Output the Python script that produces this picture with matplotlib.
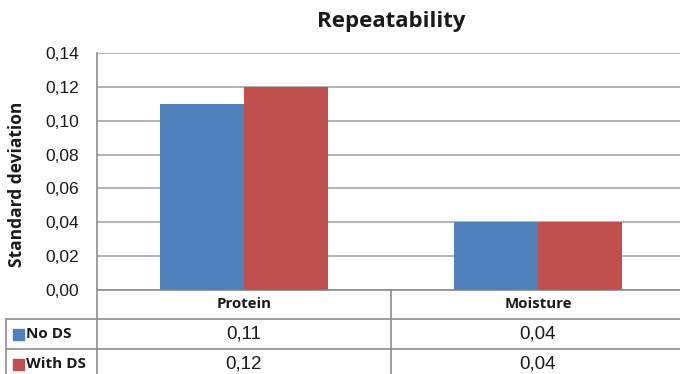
import numpy as np
import matplotlib
matplotlib.use("Agg")
import matplotlib.pyplot as plt
from matplotlib.lines import Line2D
from matplotlib.patches import Rectangle
from matplotlib.transforms import blended_transform_factory
from matplotlib.ticker import FuncFormatter

# data
categories = ["Protein", "Moisture"]
series_names = ["No DS", "With DS"]
no_ds = [0.11, 0.04]
with_ds = [0.12, 0.04]
yticks = [0.00, 0.02, 0.04, 0.06, 0.08, 0.10, 0.12, 0.14]

colors = ["#4F81BD", "#C0504D"]
grid_col = "#A6A6A6"
line_col = "#8C8C8C"
text_col = "#1A1A1A"

W, H = 680, 374


def fx(px):
    return px / W


def fy(py):
    return 1 - py / H


fig = plt.figure(figsize=(6.8, 3.74), dpi=100)
fig.patch.set_facecolor("white")

# plot area (right edge runs a bit past the image like the original)
ax = fig.add_axes([fx(97), fy(290), fx(685) - fx(97), fy(53) - fy(290)])
x = np.arange(len(categories))
bw = 0.286
ax.bar(x - bw / 2, no_ds, width=bw, color=colors[0], zorder=3)
ax.bar(x + bw / 2, with_ds, width=bw, color=colors[1], zorder=3)

ax.set_xlim(-0.5, len(categories) - 0.5)
ax.set_ylim(0, 0.14)
ax.set_yticks(yticks)
ax.yaxis.set_major_formatter(FuncFormatter(lambda v, p: f"{v:.2f}".replace(".", ",")))
ax.set_xticks([])
ax.tick_params(axis="y", length=0, pad=13, labelsize=12.5, labelcolor=text_col)
for lab in ax.get_yticklabels():
    lab.set_family("Liberation Sans")
ax.grid(axis="y", color=grid_col, linewidth=1.2, zorder=0)
for s in ["top", "right"]:
    ax.spines[s].set_visible(False)
ax.spines["left"].set_color(line_col)
ax.spines["bottom"].set_color(line_col)
ax.spines["left"].set_linewidth(1.2)
ax.spines["bottom"].set_linewidth(1.2)

# axis title and chart title
fig.text(fx(17), fy(184), "Standard deviation", rotation=90,
         ha="center", va="center", fontsize=12.5, fontweight="bold",
         family="Open Sans", color=text_col)
fig.text(fx(391), fy(22), "Repeatability", ha="center", va="center",
         fontsize=16, fontweight="bold", family="Open Sans", color=text_col)

# data table under the plot
bt = blended_transform_factory(ax.transData, fig.transFigure)
row_lines = [319, 349]
row_centers = [304.5, 334, 364]

edges = np.arange(len(categories) + 1) - 0.5
for e in edges[:-1]:
    fig.add_artist(Line2D([e, e], [fy(290), 0], transform=bt,
                          color=line_col, linewidth=1.2))
for r in row_lines:
    fig.add_artist(Line2D([fx(6), 1], [fy(r), fy(r)], transform=fig.transFigure,
                          color=line_col, linewidth=1.2))
fig.add_artist(Line2D([fx(6), fx(6)], [fy(319), 0], transform=fig.transFigure,
                      color=line_col, linewidth=1.2))

for i, cat in enumerate(categories):
    fig.text(x[i], fy(row_centers[0]), cat, transform=bt, ha="center", va="center",
             fontsize=10.8, fontweight="bold", family="Open Sans", color=text_col)

for j, (name, vals) in enumerate(zip(series_names, [no_ds, with_ds])):
    yc = row_centers[j + 1]
    fig.add_artist(Rectangle((fx(12.5), fy(yc + 5.5)), fx(11.5), fy(yc - 5.5) - fy(yc + 5.5),
                             transform=fig.transFigure, color=colors[j]))
    fig.text(fx(26), fy(yc), name, ha="left", va="center", fontsize=11,
             fontweight="bold", family="Open Sans", color=text_col)
    for i, v in enumerate(vals):
        fig.text(x[i], fy(yc), f"{v:.2f}".replace(".", ","), transform=bt,
                 ha="center", va="center", fontsize=13.5, family="Liberation Sans",
                 color=text_col)

fig.savefig("out.png", dpi=100, facecolor="white")
